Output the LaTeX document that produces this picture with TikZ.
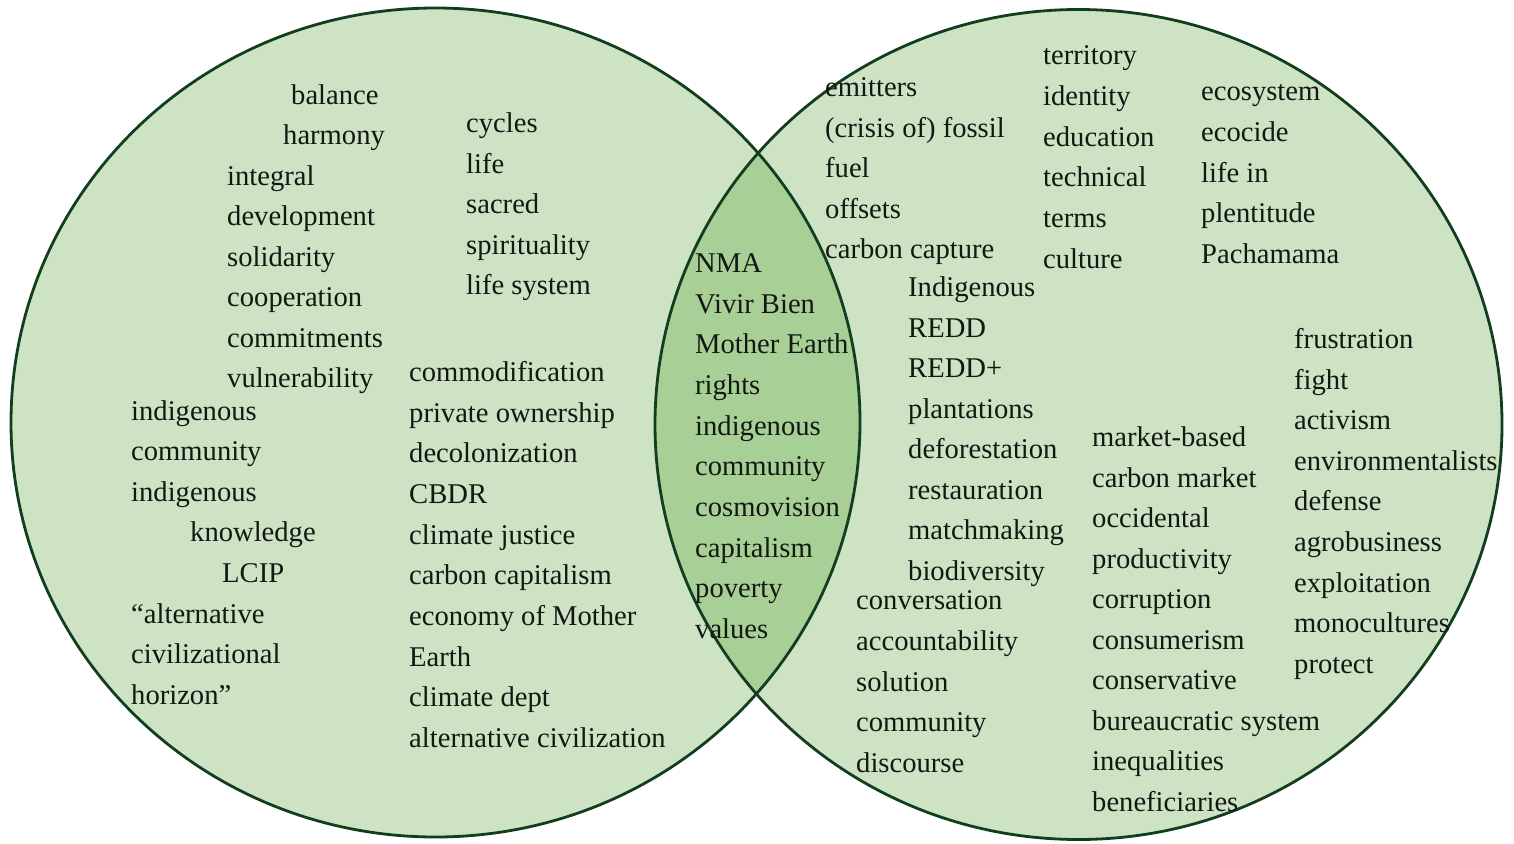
\documentclass[tikz,border=0pt]{standalone}
\usepackage{fontspec}
\setmainfont{Liberation Serif}
\definecolor{ringfill}{RGB}{205,227,196}
\definecolor{lensfill}{RGB}{168,207,150}
\definecolor{ringline}{RGB}{18,62,32}
\definecolor{inkdark}{RGB}{18,24,18}
\begin{document}
\begin{tikzpicture}[x=1pt,y=-1pt,
  word/.style={anchor=base west, inner sep=0pt, text=inkdark,
               font=\fontsize{28.6}{34}\selectfont},
  ring/.style={draw=ringline, line width=2.8pt}]
\useasboundingbox (0,0) rectangle (1514,843);

% the two sets and their overlap
\def\leftset{(435.5,422.5) ellipse [x radius=424.5, y radius=414.5]}
\def\rightset{(1078.5,424.5) ellipse [x radius=423.5, y radius=415]}
\fill[ringfill] \leftset;
\fill[ringfill] \rightset;
\begin{scope}
  \clip \leftset;
  \fill[lensfill] \rightset;
\end{scope}
\draw[ring] \leftset;
\draw[ring] \rightset;

% left set: values and cosmology
\foreach \px/\t [count=\n from 0] in {291/balance, 283/harmony, 227/integral,
    227/development, 227/solidarity, 227/cooperation, 227/commitments,
    227/vulnerability}
  \node[word] (la\n) at (\px, 104+40.5*\n) {\t};
\foreach \px/\t [count=\n from 0] in {131/indigenous, 131/community,
    131/indigenous, 190/knowledge, 222/LCIP, 131/``alternative,
    131/civilizational, 131/horizon''}
  \node[word] (lb\n) at (\px, 420+40.6*\n) {\t};
\foreach \t [count=\n from 0] in {cycles, life, sacred, spirituality, life system}
  \node[word] (lc\n) at (466, 132.5+40.6*\n) {\t};
\foreach \t [count=\n from 0] in {commodification, private ownership,
    decolonization, CBDR, climate justice, carbon capitalism,
    economy of Mother, Earth, climate dept, alternative civilization}
  \node[word] (ld\n) at (409, 381.5+40.67*\n) {\t};

% shared terms
\foreach \t [count=\n from 0] in {NMA, Vivir Bien, Mother Earth, rights,
    indigenous, community, cosmovision, capitalism, poverty, values}
  \node[word] (mid\n) at (695, 272.5+40.67*\n) {\t};

% right set: market and policy
\foreach \t [count=\n from 0] in {emitters, (crisis of) fossil, fuel, offsets,
    carbon capture}
  \node[word] (ra\n) at (825, 96.5+40.5*\n) {\t};
\foreach \t [count=\n from 0] in {territory, identity, education, technical,
    terms, culture}
  \node[word] (rb\n) at (1043, 64.5+40.8*\n) {\t};
\foreach \t [count=\n from 0] in {ecosystem, ecocide, life in, plentitude,
    Pachamama}
  \node[word] (rc\n) at (1201, 100.5+40.75*\n) {\t};
\foreach \t [count=\n from 0] in {Indigenous, REDD, REDD+, plantations,
    deforestation, restauration, matchmaking, biodiversity}
  \node[word] (rd\n) at (908, 296.5+40.57*\n) {\t};
\foreach \t [count=\n from 0] in {conversation, accountability, solution,
    community, discourse}
  \node[word] (re\n) at (856, 609.5+40.75*\n) {\t};
\foreach \t [count=\n from 0] in {market-based, carbon market, occidental,
    productivity, corruption, consumerism, conservative, bureaucratic system,
    inequalities, beneficiaries}
  \node[word] (rf\n) at (1092, 446.5+40.56*\n) {\t};
\foreach \t [count=\n from 0] in {frustration, fight, activism,
    environmentalists, defense, agrobusiness, exploitation, monocultures,
    protect}
  \node[word] (rg\n) at (1294, 348.5+40.62*\n) {\t};
\end{tikzpicture}
\end{document}
